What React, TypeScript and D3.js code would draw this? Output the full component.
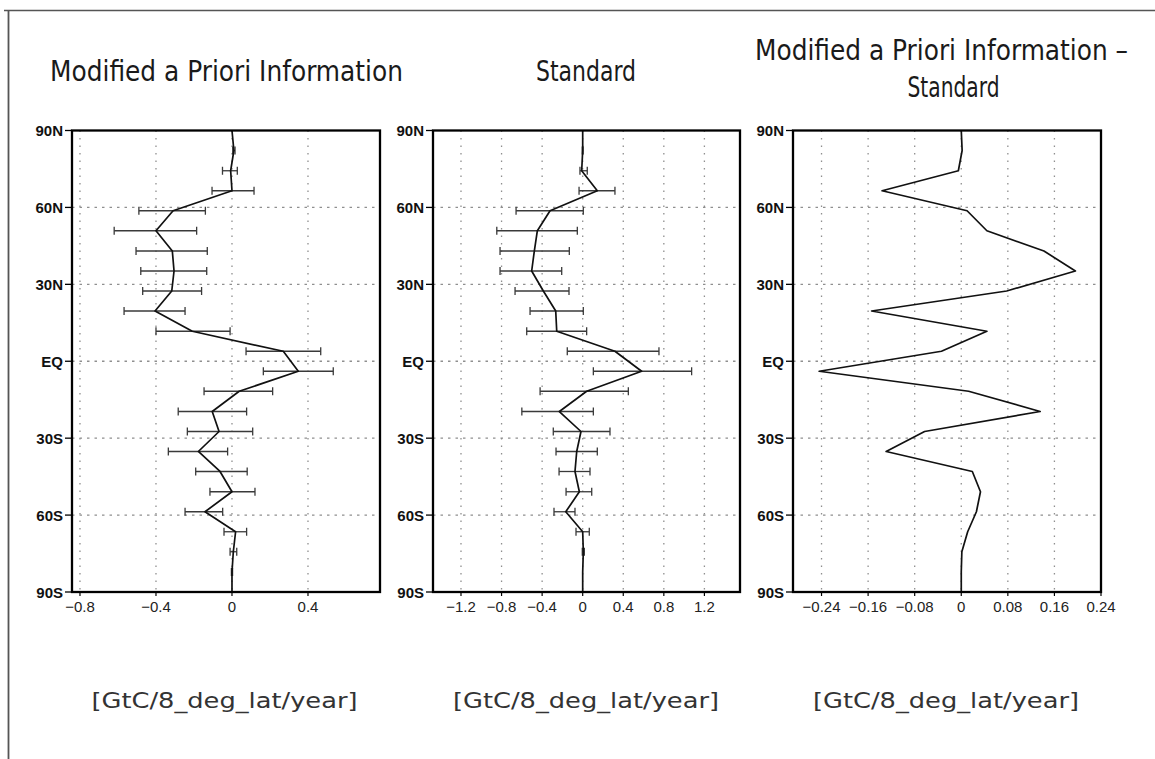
import React from "react";
import * as d3 from "d3";

// Latitude of each point (degrees, N positive)
const LATS = [90, 82.2, 74.3, 66.5, 58.7, 50.9, 43.0, 35.2, 27.4, 19.6, 11.7, 3.9, -3.9, -11.7, -19.6, -27.4, -35.2, -43.0, -50.9, -58.7, -66.5, -74.3, -82.2, -90];

// Modified a Priori Information
const MOD_VAL = [0, 0.01, -0.007, 0.0, -0.31, -0.4, -0.314, -0.305, -0.317, -0.405, -0.209, 0.27, 0.349, 0.038, -0.104, -0.068, -0.177, -0.063, 0.0, -0.142, 0.019, 0.007, 0.0, 0];
const MOD_LO = [0, 0.004, -0.05, -0.105, -0.49, -0.62, -0.505, -0.48, -0.47, -0.568, -0.4, 0.074, 0.165, -0.147, -0.283, -0.235, -0.335, -0.191, -0.116, -0.247, -0.042, -0.01, -0.003, 0];
const MOD_HI = [0, 0.016, 0.028, 0.116, -0.14, -0.186, -0.13, -0.133, -0.16, -0.247, -0.01, 0.467, 0.533, 0.214, 0.077, 0.109, -0.023, 0.08, 0.121, -0.049, 0.077, 0.025, 0.003, 0];

// Standard
const STD_VAL = [0, 0.0, -0.01, 0.144, -0.322, -0.447, -0.477, -0.503, -0.388, -0.266, -0.256, 0.318, 0.581, 0.039, -0.23, -0.017, -0.059, -0.076, -0.033, -0.167, 0.0, 0.006, 0.0, 0];
const STD_LO = [0, -0.004, -0.027, -0.036, -0.657, -0.847, -0.815, -0.815, -0.667, -0.519, -0.552, -0.152, 0.105, -0.42, -0.6, -0.29, -0.263, -0.233, -0.164, -0.283, -0.066, -0.004, 0, 0];
const STD_HI = [0, 0.004, 0.045, 0.318, 0.006, -0.053, -0.132, -0.207, -0.135, 0.006, 0.039, 0.752, 1.074, 0.45, 0.105, 0.269, 0.144, 0.072, 0.089, -0.076, 0.065, 0.016, 0, 0];

// Modified a Priori Information - Standard
const DIFF_VAL = [0, 0.0015, -0.005, -0.136, 0.01, 0.044, 0.142, 0.196, 0.078, -0.154, 0.044, -0.034, -0.244, 0.0126, 0.1355, -0.063, -0.129, 0.019, 0.033, 0.026, 0.011, 0.001, 0, 0];

const LAT_TICKS = [90, 60, 30, 0, -30, -60, -90];
const LAT_LABELS = ["90N", "60N", "30N", "EQ", "30S", "60S", "90S"];
const LAT_GRID = [60, 30, 0, -30, -60];

const X1_TICKS = [-0.8, -0.4, 0, 0.4];
const X1_LABELS = ["\u22120.8", "\u22120.4", "0", "0.4"];
const X2_TICKS = [-1.2, -0.8, -0.4, 0, 0.4, 0.8, 1.2];
const X2_LABELS = ["\u22121.2", "\u22120.8", "\u22120.4", "0", "0.4", "0.8", "1.2"];
const X3_TICKS = [-0.24, -0.16, -0.08, 0, 0.08, 0.16, 0.24];
const X3_LABELS = ["\u22120.24", "\u22120.16", "\u22120.08", "0", "0.08", "0.16", "0.24"];

const UNIT = "[GtC/8_deg_lat/year]";

const TOP = 130.5;
const BOTTOM = 592;

type PanelDef = {
  left: number;
  right: number;
  domain: [number, number];
  ticks: number[];
  labels: string[];
  vals: number[];
  lo?: number[];
  hi?: number[];
};

const panels: PanelDef[] = [
  { left: 72, right: 380, domain: [-0.842, 0.779], ticks: X1_TICKS, labels: X1_LABELS, vals: MOD_VAL, lo: MOD_LO, hi: MOD_HI },
  { left: 433, right: 740, domain: [-1.476, 1.551], ticks: X2_TICKS, labels: X2_LABELS, vals: STD_VAL, lo: STD_LO, hi: STD_HI },
  { left: 793, right: 1101, domain: [-0.289, 0.24], ticks: X3_TICKS, labels: X3_LABELS, vals: DIFF_VAL },
];

const y = d3.scaleLinear().domain([90, -90]).range([TOP, BOTTOM]);

function Panel({ p }: { p: PanelDef }) {
  const x = d3.scaleLinear().domain(p.domain).range([p.left, p.right]);
  const line = d3
    .line<number>()
    .x((d) => x(d))
    .y((_, i) => y(LATS[i]));
  const gridColor = "#8f8f8f";
  return (
    <g>
      {p.ticks
        .filter((t) => x(t) > p.left + 2 && x(t) < p.right - 2)
        .map((t, i) => (
          <line key={"vg" + i} x1={x(t)} x2={x(t)} y1={TOP} y2={BOTTOM} stroke={gridColor} strokeWidth={1.3} strokeDasharray="1.5,6" />
        ))}
      {LAT_GRID.map((l, i) => (
        <line key={"hg" + i} x1={p.left} x2={p.right} y1={y(l)} y2={y(l)} stroke={gridColor} strokeWidth={1.3} strokeDasharray="2.5,5" />
      ))}
      {p.lo &&
        p.hi &&
        LATS.map((lat, i) => {
          const lo = p.lo![i];
          const hi = p.hi![i];
          if (lo === hi) return null;
          const yy = y(lat);
          return (
            <g key={"eb" + i} stroke="#3a3a3a" strokeWidth={1.3}>
              <line x1={x(lo)} x2={x(hi)} y1={yy} y2={yy} />
              <line x1={x(lo)} x2={x(lo)} y1={yy - 4} y2={yy + 4} />
              <line x1={x(hi)} x2={x(hi)} y1={yy - 4} y2={yy + 4} />
            </g>
          );
        })}
      <path d={line(p.vals) || ""} fill="none" stroke="#111" strokeWidth={1.7} strokeLinejoin="round" />
      <rect x={p.left} y={TOP} width={p.right - p.left} height={BOTTOM - TOP} fill="none" stroke="#000" strokeWidth={2.3} />
      {LAT_TICKS.map((l, i) => (
        <g key={"yt" + i}>
          <line x1={p.left - 7} x2={p.left} y1={y(l)} y2={y(l)} stroke="#000" strokeWidth={1.3} />
          <text x={p.left - 9} y={y(l) + 5.5} textAnchor="end" fontFamily="Liberation Sans, Arial, sans-serif" fontWeight="bold" fontSize={15} fill="#111">
            {LAT_LABELS[i]}
          </text>
        </g>
      ))}
      {p.ticks.map((t, i) => (
        <g key={"xt" + i}>
          <line x1={x(t)} x2={x(t)} y1={BOTTOM} y2={BOTTOM + 4} stroke="#000" strokeWidth={1.2} />
          <text x={x(t)} y={BOTTOM + 20} textAnchor="middle" fontFamily="Liberation Sans Narrow, Liberation Sans, Arial, sans-serif" fontSize={15} fill="#222">
            {p.labels[i]}
          </text>
        </g>
      ))}
    </g>
  );
}

export default function App() {
  const titleFont = "DejaVu Sans Condensed, DejaVu Sans, sans-serif";
  const unitFont = "DejaVu Sans, sans-serif";
  return (
    <svg width={1155} height={759} viewBox="0 0 1155 759" style={{ position: "absolute", left: 0, top: 0, display: "block", background: "#fff" }}>
      <rect x={0} y={0} width={1155} height={759} fill="#fff" />
      <line x1={4} x2={1155} y1={10.5} y2={10.5} stroke="#555" strokeWidth={1.6} />
      <line x1={8.5} x2={8.5} y1={10} y2={759} stroke="#555" strokeWidth={1.8} />

      <text x={226.5} y={81} textAnchor="middle" fontFamily={titleFont} fontSize={28.5} fill="#1a1a1a" textLength={353} lengthAdjust="spacingAndGlyphs">
        Modified a Priori Information
      </text>
      <text x={586} y={81} textAnchor="middle" fontFamily={titleFont} fontSize={28.5} fill="#1a1a1a" textLength={100} lengthAdjust="spacingAndGlyphs">
        Standard
      </text>
      <text x={941.5} y={60} textAnchor="middle" fontFamily={titleFont} fontSize={28.5} fill="#1a1a1a" textLength={373} lengthAdjust="spacingAndGlyphs">
        Modified a Priori Information –
      </text>
      <text x={953.5} y={97} textAnchor="middle" fontFamily={titleFont} fontSize={28.5} fill="#1a1a1a" textLength={92} lengthAdjust="spacingAndGlyphs">
        Standard
      </text>

      {panels.map((p, i) => (
        <Panel key={i} p={p} />
      ))}

      <text x={224.5} y={708} textAnchor="middle" fontFamily={unitFont} fontSize={22} fill="#333" textLength={266} lengthAdjust="spacingAndGlyphs">
        {UNIT}
      </text>
      <text x={586} y={708} textAnchor="middle" fontFamily={unitFont} fontSize={22} fill="#333" textLength={266} lengthAdjust="spacingAndGlyphs">
        {UNIT}
      </text>
      <text x={946} y={708} textAnchor="middle" fontFamily={unitFont} fontSize={22} fill="#333" textLength={266} lengthAdjust="spacingAndGlyphs">
        {UNIT}
      </text>
    </svg>
  );
}
